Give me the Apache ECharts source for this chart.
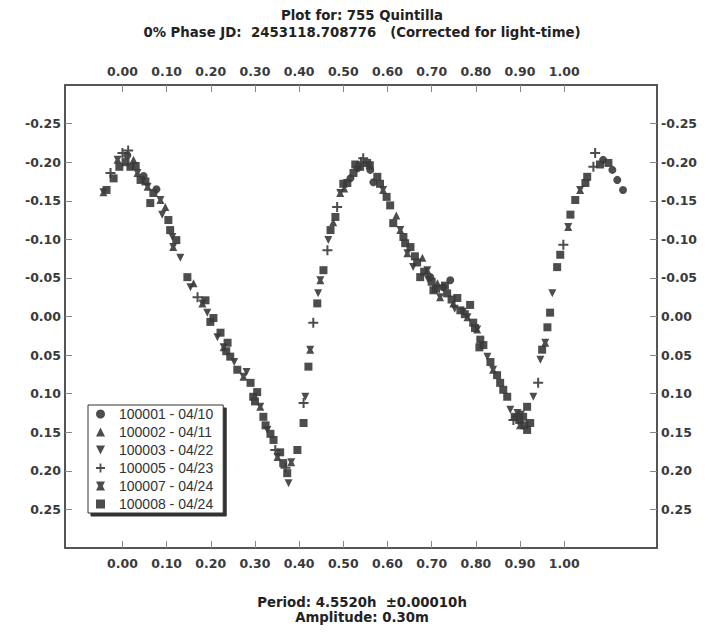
<!DOCTYPE html>
<html><head><meta charset="utf-8">
<script src="https://cdn.jsdelivr.net/npm/echarts@6/dist/echarts.min.js"></script>
<style>html,body{margin:0;padding:0;background:#fff}#c{width:713px;height:632px}</style>
</head><body><div id="c"></div>
<script>
// ---- data ----
const seriesNames = ['100001 - 04/10','100002 - 04/11','100003 - 04/22','100005 - 04/23','100007 - 04/24','100008 - 04/24'];
const s100001 = [[0.011,-0.209],[0.048,-0.182],[0.077,-0.165],[0.516,-0.179],[0.532,-0.192],[0.561,-0.190],[0.568,-0.174],[0.697,-0.051],[0.726,-0.038],[1.088,-0.203],[1.109,-0.190],[1.120,-0.177],[1.133,-0.164],[0.742,-0.047]];
const s100002 = [[0.025,-0.203],[0.097,-0.142],[0.161,-0.043],[0.477,-0.122],[0.502,-0.166],[0.679,-0.076],[0.713,-0.043],[0.749,-0.017],[0.620,-0.131]];
const s100003 = [[0.090,-0.132],[0.113,-0.103],[0.131,-0.076],[0.154,-0.038],[0.192,-0.005],[0.215,0.027],[0.253,0.059],[0.281,0.072],[0.328,0.147],[0.376,0.216],[0.414,0.104],[0.443,-0.030],[0.466,-0.099],[0.826,0.052],[0.878,0.121],[0.930,0.104],[0.946,0.056],[0.973,-0.030],[0.658,-0.064],[0.771,-0.006],[0.692,-0.048],[0.752,-0.010],[0.902,0.127]];
const s100005 = [[0.000,-0.212],[-0.027,-0.186],[0.170,-0.025],[0.346,0.173],[0.369,0.196],[0.410,0.112],[0.432,0.008],[0.464,-0.086],[0.486,-0.142],[0.545,-0.205],[1.070,-0.212],[0.998,-0.093],[0.941,0.086],[1.066,-0.194],[0.885,0.134],[0.540,-0.200],[0.013,-0.215]];
const s100007 = [[-0.043,-0.161],[-0.011,-0.203],[0.034,-0.186],[0.057,-0.168],[0.086,-0.151],[0.115,-0.090],[0.181,-0.017],[0.229,0.040],[0.274,0.078],[0.312,0.117],[0.351,0.182],[0.382,0.189],[0.425,0.043],[0.448,-0.047],[0.493,-0.160],[0.590,-0.164],[0.629,-0.112],[0.645,-0.082],[0.719,-0.025],[0.781,0.001],[0.839,0.069],[0.894,0.125],[0.957,0.034],[1.009,-0.116],[1.036,-0.164],[0.690,-0.060],[0.803,0.017],[0.900,0.141]];
const s100008 = [[-0.036,-0.164],[-0.020,-0.179],[-0.007,-0.194],[0.007,-0.200],[0.018,-0.194],[0.041,-0.177],[0.070,-0.160],[0.063,-0.147],[0.104,-0.125],[0.122,-0.099],[0.147,-0.051],[0.188,-0.021],[0.199,0.007],[0.206,0.002],[0.222,0.021],[0.238,0.034],[0.244,0.052],[0.260,0.069],[0.290,0.086],[0.296,0.104],[0.305,0.098],[0.319,0.130],[0.324,0.141],[0.342,0.160],[0.357,0.176],[0.364,0.190],[0.373,0.203],[0.396,0.173],[0.410,0.138],[0.421,0.065],[0.441,-0.017],[0.455,-0.060],[0.471,-0.112],[0.482,-0.129],[0.509,-0.173],[0.523,-0.186],[0.538,-0.194],[0.554,-0.199],[0.577,-0.181],[0.606,-0.144],[0.613,-0.121],[0.636,-0.103],[0.652,-0.090],[0.667,-0.070],[0.674,-0.051],[0.704,-0.034],[0.735,-0.030],[0.758,-0.024],[0.765,-0.008],[0.787,-0.015],[0.794,0.008],[0.810,0.030],[0.817,0.037],[0.833,0.059],[0.848,0.076],[0.855,0.086],[0.862,0.095],[0.871,0.104],[0.907,0.130],[0.916,0.147],[0.923,0.138],[0.916,0.117],[0.950,0.043],[0.962,0.014],[0.968,-0.005],[0.984,-0.064],[0.991,-0.080],[1.014,-0.132],[1.025,-0.151],[1.048,-0.173],[1.052,-0.181],[1.081,-0.197],[1.100,-0.199],[0.560,-0.196],[0.583,-0.172],[0.598,-0.155],[0.640,-0.095],[0.662,-0.078],[0.683,-0.058],[0.700,-0.045],[0.710,-0.036],[0.730,-0.040],[0.745,-0.022],[0.775,-0.003],[0.798,0.015],[0.808,0.040],[0.888,0.130],[0.898,0.134],[0.910,0.141],[0.500,-0.172],[0.527,-0.197],[0.030,-0.195],[0.052,-0.175],[0.108,-0.112],[0.235,0.045],[0.300,0.110],[0.335,0.152]];
const xTicks = [0.00,0.10,0.20,0.30,0.40,0.50,0.60,0.70,0.80,0.90,1.00];
const yTicks = [-0.25,-0.20,-0.15,-0.10,-0.05,0.00,0.05,0.10,0.15,0.20,0.25];
const titleLines = ['Plot for: 755 Quintilla','0% Phase JD:  2453118.708776   (Corrected for light-time)'];
const footerLines = ['Period: 4.5520h  \u00b10.00010h','Amplitude: 0.30m'];

// ---- styling ----
const seriesData = [s100001,s100002,s100003,s100005,s100007,s100008];
const symbols = [
  'circle',
  'triangle',
  'path://M0,0 L10,0 L5,10 Z',
  'path://M4,0 H6 V4 H10 V6 H6 V10 H4 V6 H0 V4 H4 Z',
  'path://M0,0 H10 L7.5,5 L10,10 H0 L2.5,5 Z',
  'rect'
];
const sizes = [8,8,8,10,8,8];
const ink = '#3a3a3a';
const font = 'DejaVu Sans';
const lblStyle = {fontFamily:font,fontWeight:'bold',fontSize:12.5,color:'#3a3a3a'};
const fmt = v => (Math.abs(v) < 1e-9 ? 0 : v).toFixed(2);

function xAx(pos, margin){
  return {type:'value', position:pos, min:-0.13, max:1.21,
    axisLine:{show:true,onZero:false,lineStyle:{color:'#555',width:2}},
    axisTick:{show:true,inside:true,length:7,customValues:xTicks,lineStyle:{color:'#888'}},
    axisLabel:Object.assign({customValues:xTicks,formatter:fmt,margin:margin},lblStyle),
    splitLine:{show:false}};
}
function yAx(pos){
  return {type:'value', position:pos, min:-0.30, max:0.30, inverse:true,
    axisLine:{show:true,onZero:false,lineStyle:{color:'#555',width:2}},
    axisTick:{show:true,inside:true,length:7,customValues:yTicks,lineStyle:{color:'#888'}},
    axisLabel:Object.assign({customValues:yTicks,formatter:fmt,margin:4},lblStyle),
    splitLine:{show:false}};
}
const txt = (s,x,y) => ({type:'text',x:x,y:y,style:{text:s,textAlign:'center',textVerticalAlign:'middle',font:'bold 13.3px '+font,fill:'#222'}});

const chart = echarts.init(document.getElementById('c'), null, {renderer:'svg'});
chart.setOption({
  animation:false,
  backgroundColor:'#fff',
  grid:{left:65,right:56,top:85,bottom:84,containLabel:false,outerBoundsMode:'none'},
  xAxis:[xAx('bottom',9), xAx('top',7)],
  yAxis:[yAx('left'), yAx('right')],
  legend:{
    orient:'vertical', left:88, top:405,
    data:seriesNames,
    itemWidth:9, itemHeight:9, itemGap:4,
    padding:[2,10,2,8],
    backgroundColor:'#fff', borderColor:'#333', borderWidth:1,
    shadowColor:'#333', shadowOffsetX:3, shadowOffsetY:3, shadowBlur:0,
    textStyle:{fontFamily:'Liberation Sans',fontSize:14,color:'#333',padding:[0,0,0,9]},
    selectedMode:false
  },
  graphic:[
    txt(titleLines[0],362,15),
    txt(titleLines[1],362,32),
    txt(footerLines[0],362,602),
    txt(footerLines[1],362,617)
  ],
  series: seriesData.map((d,i)=>({
    name:seriesNames[i], type:'scatter', xAxisIndex:0, yAxisIndex:0,
    data:d, symbol:symbols[i], symbolSize:sizes[i],
    itemStyle:{color:ink,opacity:0.9}
  }))
});
</script></body></html>
